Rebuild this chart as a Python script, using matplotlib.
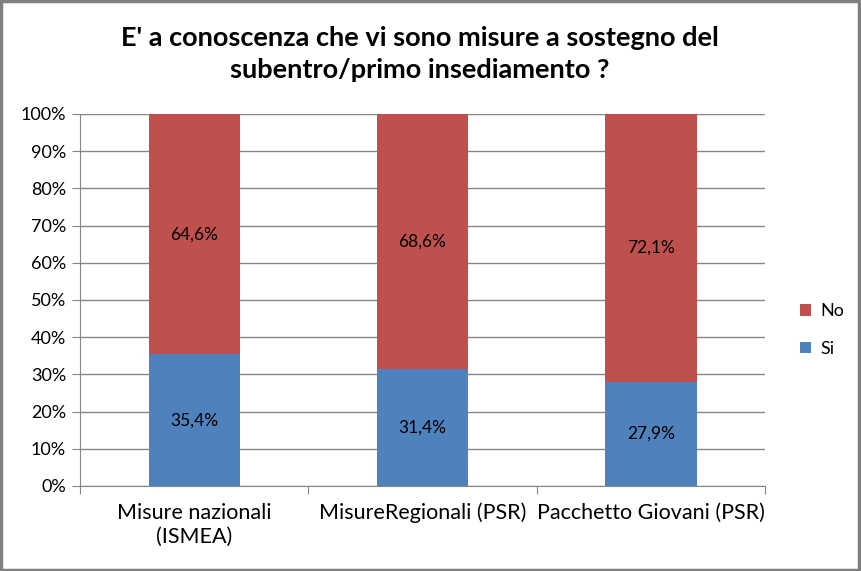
import numpy as np
import matplotlib.pyplot as plt
from matplotlib.patches import Rectangle

categories = ['Misure nazionali\n(ISMEA)', 'MisureRegionali (PSR)', 'Pacchetto Giovani (PSR)']
si_vals = [35.4, 31.4, 27.9]
no_vals = [64.6, 68.6, 72.1]
si_labels = ['35,4%', '31,4%', '27,9%']
no_labels = ['64,6%', '68,6%', '72,1%']

plt.rcParams['font.family'] = ['Lato', 'DejaVu Sans']

fig = plt.figure(figsize=(8.61, 5.71), dpi=100)
ax = fig.add_axes([80/861, 1-486/571, 685/861, 372/571])

x = np.arange(len(categories))
blue = '#4F81BD'
red = '#C0504D'
ax.bar(x, si_vals, width=0.4, color=blue, zorder=3, label='Si')
ax.bar(x, no_vals, width=0.4, bottom=si_vals, color=red, zorder=3, label='No')

for i in range(len(x)):
    ax.text(x[i], si_vals[i] / 2, si_labels[i], ha='center', va='center', fontsize=12.5, zorder=4)
    ax.text(x[i], si_vals[i] + no_vals[i] / 2, no_labels[i], ha='center', va='center', fontsize=12.5, zorder=4)

ax.set_xlim(-0.5, 2.5)
ax.set_ylim(0, 100)
ax.set_yticks(np.arange(0, 101, 10))
ax.set_yticklabels(['%d%%' % v for v in range(0, 101, 10)], fontsize=13)
ax.yaxis.grid(True, color='#868686', linewidth=1, zorder=0)

# category ticks at boundaries, labels in centers
ax.set_xticks([-0.5, 0.5, 1.5, 2.5])
ax.set_xticklabels([])
ax.set_xticks(x, minor=True)
ax.set_xticklabels(categories, minor=True, fontsize=15.5, linespacing=1.25)
ax.tick_params(axis='x', which='minor', length=0, pad=12)
ax.tick_params(axis='x', which='major', length=6, color='#868686', direction='out')
ax.tick_params(axis='y', length=6, color='#868686', pad=4)

for s in ['top', 'right']:
    ax.spines[s].set_visible(False)
ax.spines['left'].set_color('#868686')
ax.spines['bottom'].set_color('#868686')

handles, labels = ax.get_legend_handles_labels()
fig.legend(handles[::-1], labels[::-1], loc='center left', bbox_to_anchor=(784/861, 1-330/571),
           frameon=False, fontsize=13, handlelength=0.6, handleheight=0.6, labelspacing=1.2,
           handletextpad=0.5)

fig.text(420/861, 1-54/571, "E' a conoscenza che vi sono misure a sostegno del\nsubentro/primo insediamento ?",
         ha='center', va='center', fontsize=19.5, fontweight='bold', linespacing=1.4)

fig.patches.append(Rectangle((0.001, 0.002), 0.997, 0.996, transform=fig.transFigure,
                             fill=False, edgecolor='#808080', linewidth=2.5))

fig.savefig('out.png', dpi=100)
